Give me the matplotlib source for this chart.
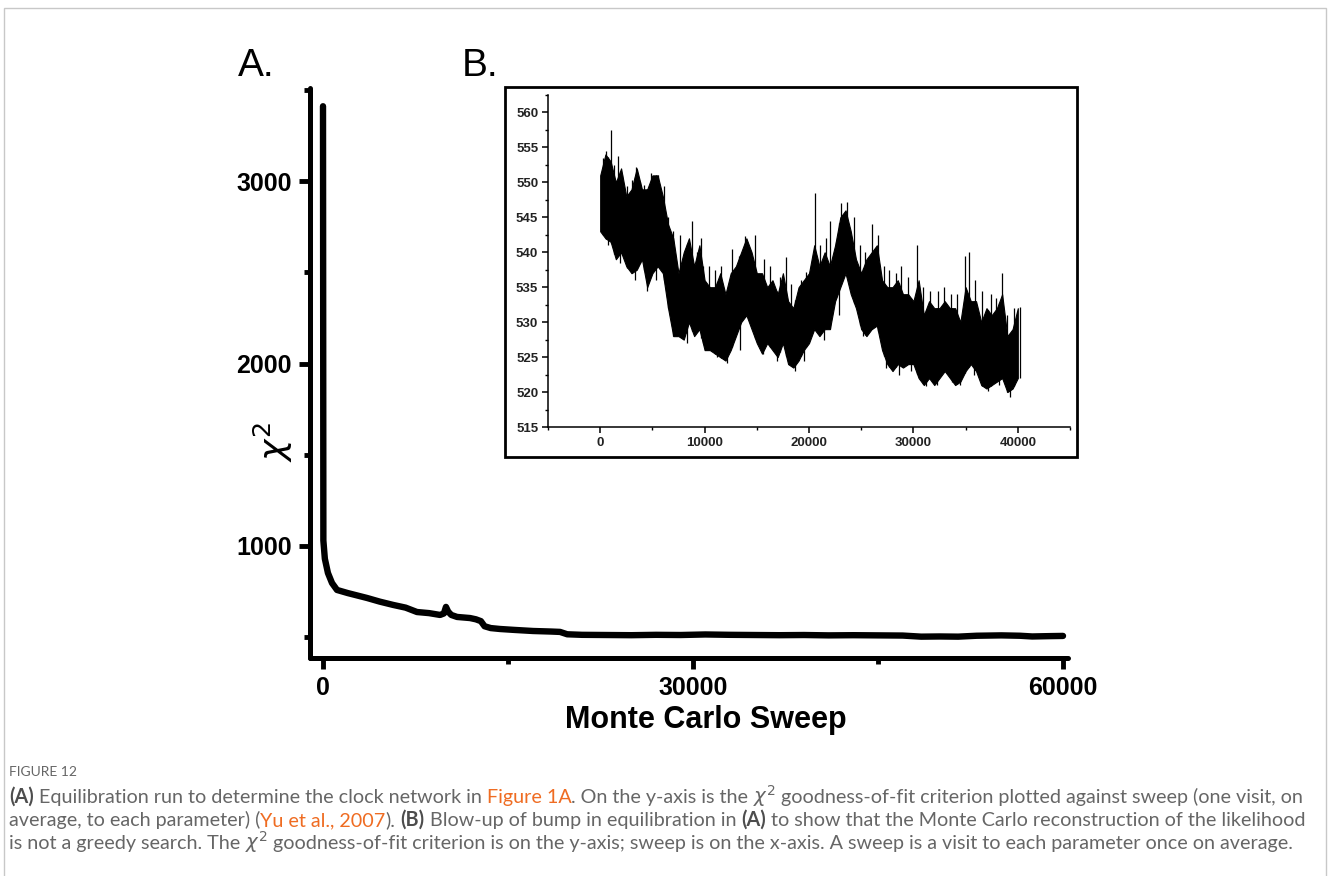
import matplotlib.pyplot as plt
import numpy as np
from matplotlib.patches import Rectangle

# panel A: chi^2 against Monte Carlo sweep
main_sweep = [0, 30, 150, 400, 730, 1135, 2000, 3570, 4600, 5680, 6700, 7620, 8600,
              9490, 9800, 9970, 10150, 10400, 10870, 11400, 11920, 12400, 12800,
              13100, 13600, 14350, 15500, 17030, 18500, 19220, 19800, 21000, 23000,
              25000, 27000, 29000, 31000, 33000, 35000, 37000, 39000, 41000, 43000,
              45000, 47000, 48500, 50000, 51500, 53000, 55000, 56500, 57500, 59000, 60000]
main_chi2 = [3410, 1030, 930, 852, 797, 759, 742, 715, 695, 677, 662, 638, 632,
             622, 630, 666, 640, 622, 611, 608, 605, 598, 588,
             560, 550, 545, 540, 534, 531, 529, 516, 513, 512,
             511, 513, 512, 515, 513, 512, 511, 512, 510, 511,
             510, 509, 503, 504, 503, 508, 510, 508, 504, 506, 507]

# panel B: envelope of the noisy band, every 500 sweeps
band_sweep = list(range(0, 40001, 500))
band_hi = [551, 554, 553, 550, 552, 548, 549, 552, 549, 549, 551, 551, 548, 544, 542,
           537, 540, 542, 538, 541, 536, 535, 535, 537, 534, 537, 538, 540, 542, 540,
           537, 537, 535, 536, 534, 537, 533, 532, 535, 536, 537, 541, 538, 540, 538,
           541, 545, 546, 543, 539, 537, 539, 540, 541, 536, 535, 535, 536, 534, 534,
           533, 536, 531, 533, 532, 532, 533, 532, 532, 530, 535, 533, 533, 530, 532,
           531, 532, 534, 528, 529, 532]
band_lo = [543, 542, 541.5, 539, 540, 538, 537, 537.5, 539, 535, 537, 538, 537, 532, 528,
           528, 527.5, 530, 528, 529, 526, 526, 525.5, 525, 524.5, 526, 528, 530, 531, 529,
           527, 525.5, 527, 526, 525, 527, 524, 523.5, 524.5, 526, 527, 529, 528, 529, 529,
           533, 535, 537, 534, 532, 529, 528, 529, 529.5, 526, 524, 523, 524, 523.5, 524,
           524, 522, 521, 522, 521, 522, 523, 522, 521, 521.5, 523, 524, 523, 521, 520.5,
           521, 521.5, 522, 520, 520.5, 522]
# upward and downward excursions sticking out of the band
spike_sweep = [250, 600, 1030, 1350, 1700, 2100, 2600, 3050, 3400, 3800, 4200, 4900,
               5500, 6100, 6500, 7000, 7600, 8200, 8800, 9300, 9700, 10400, 11000,
               11600, 12600, 13300, 13900, 14800, 15700, 16300, 17200, 17800, 18300,
               19200, 19700, 20580, 21100, 21600, 22000, 22600, 23100, 23600, 24300,
               24900, 25400, 26050, 26600, 27200, 27700, 28300, 28800, 29500, 30340,
               30900, 31600, 32400, 32900, 33600, 34200, 34900, 35300, 35900, 36600,
               37400, 37900, 38470, 39000, 39600, 40200]
spike_chi2 = [553.5, 554.5, 557.5, 552.5, 553.8, 551, 549.5, 550.3, 552.2, 550, 549.6, 551.3,
              551, 549.5, 545, 543, 542.5, 540.5, 544.5, 540, 542, 538, 537.5,
              538, 540.5, 539.5, 542.3, 542.5, 539, 538, 536.5, 539.3, 535.5,
              536, 537.2, 548.5, 541, 542, 544.5, 541.5, 547, 547.2, 545,
              541, 540, 544, 542.5, 538, 537.5, 537, 538, 536.5, 541,
              535, 534.5, 534.5, 535, 534, 534, 539.5, 540, 536, 534.5,
              534, 533.5, 537, 531, 532, 532.2]
dip_sweep = [700, 1900, 3300, 4500, 5300, 6900, 8300, 9800, 11200, 12100, 13400, 15600,
             16900, 18700, 19500, 21400, 22900, 25200, 27400, 28600, 29800, 31200,
             32300, 33700, 34500, 35800, 37100, 38200, 39220]
dip_chi2 = [541, 538.5, 536, 534.5, 536, 529.5, 527, 527, 525, 524.2, 526, 525.5,
            524.5, 523, 524.5, 527.5, 531, 528, 523.5, 522.5, 523, 520.8,
            521, 521.5, 521, 522.5, 520.2, 521, 519.3]

W, H = 1328, 876
fig = plt.figure(figsize=(W / 100, H / 100), dpi=100)

sans = ['Liberation Sans', 'DejaVu Sans']

# light grey frame round the whole figure
fig.patches.append(Rectangle((4 / W, -0.01), 1322 / W, 1.01 - 8 / H, transform=fig.transFigure,
                             fill=False, edgecolor='#c8c8c8', linewidth=1.0))

# ---- panel A ----
ax = fig.add_axes([310 / W, 1 - 658 / H, 758 / W, 570 / H])
ax.plot(main_sweep, main_chi2, color='black', linewidth=4.6, solid_capstyle='round',
        solid_joinstyle='round')
ax.set_xlim(-1054, 60405)
ax.set_ylim(386, 3510)
for side in ['top', 'right']:
    ax.spines[side].set_visible(False)
for side in ['left', 'bottom']:
    ax.spines[side].set_linewidth(3.6)
    ax.spines[side].set_capstyle('round')
ax.set_xticks([0, 30000, 60000])
ax.set_xticks([15000, 45000], minor=True)
ax.set_yticks([1000, 2000, 3000])
ax.set_yticks([500, 1500, 2500, 3500], minor=True)
ax.tick_params(which='major', direction='out', length=8, width=3.5, pad=5)
ax.tick_params(which='minor', direction='out', length=4, width=3.5)
for lab in ax.get_xticklabels() + ax.get_yticklabels():
    lab.set_family(sans)
    lab.set_fontweight('bold')
    lab.set_fontsize(18)

fig.text(706 / W, 1 - 728 / H, 'Monte Carlo Sweep', ha='center', va='baseline',
         family=sans, fontweight='bold', fontsize=22)
fig.text(273 / W, 1 - 442 / H, r'$\chi^2$', rotation=90, ha='center', va='center',
         fontsize=26)

fig.text(238 / W, 1 - 76 / H, 'A.', family=sans, fontsize=28, va='baseline')
fig.text(462 / W, 1 - 76 / H, 'B.', family=sans, fontsize=28, va='baseline')

# ---- panel B (inset) ----
fig.patches.append(Rectangle((505 / W, 1 - 457 / H), 572 / W, 370 / H, transform=fig.transFigure,
                             fill=False, edgecolor='black', linewidth=2.0))
bx = fig.add_axes([548 / W, 1 - 427 / H, 522 / W, 332 / H])
bx.fill_between(band_sweep, band_lo, band_hi, color='black', linewidth=0.8)
lo_at = np.interp(spike_sweep, band_sweep, band_lo)
bx.vlines(spike_sweep, lo_at, spike_chi2, color='black', linewidth=0.9)
hi_at = np.interp(dip_sweep, band_sweep, band_hi)
bx.vlines(dip_sweep, dip_chi2, hi_at, color='black', linewidth=0.9)
bx.set_xlim(-5000, 45000)
bx.set_ylim(515, 562.5)
for side in ['top', 'right']:
    bx.spines[side].set_visible(False)
for side in ['left', 'bottom']:
    bx.spines[side].set_linewidth(1.1)
bx.set_xticks([0, 10000, 20000, 30000, 40000])
bx.set_xticks([-5000, 5000, 15000, 25000, 35000, 45000], minor=True)
bx.set_yticks(np.arange(515, 561, 5))
bx.set_yticks(np.arange(517.5, 563, 5), minor=True)
bx.tick_params(which='major', direction='out', length=4, width=1.1, pad=3,
               labelsize=9.5, labelcolor='#222222')
bx.tick_params(which='minor', direction='out', length=2.5, width=1.0)
for lab in bx.get_xticklabels() + bx.get_yticklabels():
    lab.set_family(sans)
    lab.set_fontweight('bold')

# ---- caption ----
grey = '#666666'
orange = '#ef6c22'
cap_font = ['Lato', 'DejaVu Sans']
size = 14.2
reg = dict(color=grey, family=cap_font, fontsize=size)
bold = dict(color='#4d4d4d', family=cap_font, fontsize=size, fontweight='bold')
link = dict(color=orange, family=cap_font, fontsize=size)
math = dict(color=grey, fontsize=size)

fig.text(9 / W, 1 - 776 / H, 'FIGURE 12', color=grey, family=cap_font, fontsize=10,
         va='baseline')

renderer = fig.canvas.get_renderer()


def text_width(s, kw):
    t = fig.text(0, 0, s, **kw)
    w = t.get_window_extent(renderer).width
    t.remove()
    return w


def draw_runs(x_px, y_px, runs):
    # place pieces of differently styled text one after the other
    space_w = text_width('a a', reg) - text_width('aa', reg)
    for s, kw, space in runs:
        t = fig.text(x_px / W, 1 - y_px / H, s, va='baseline', **kw)
        x_px += t.get_window_extent(renderer).width
        if space:
            x_px += space_w


chi = r'$\chi^2$'
line1 = [('(A)', bold, True),
         ('Equilibration run to determine the clock network in', reg, True),
         ('Figure 1A', link, False),
         ('. On the y-axis is the', reg, True),
         (chi, math, True),
         ('goodness-of-fit criterion plotted against sweep (one visit, on', reg, False)]
line2 = [('average, to each parameter) (', reg, False),
         ('Yu et al., 2007', link, False),
         (').', reg, True),
         ('(B)', bold, True),
         ('Blow-up of bump in equilibration in', reg, True),
         ('(A)', bold, True),
         ('to show that the Monte Carlo reconstruction of the likelihood', reg, False)]
line3 = [('is not a greedy search. The', reg, True),
         (chi, math, True),
         ('goodness-of-fit criterion is on the y-axis; sweep is on the x-axis. '
          'A sweep is a visit to each parameter once on average.', reg, False)]
draw_runs(9, 803, line1)
draw_runs(9, 826, line2)
draw_runs(9, 849, line3)

fig.savefig('out.png', dpi=100)
